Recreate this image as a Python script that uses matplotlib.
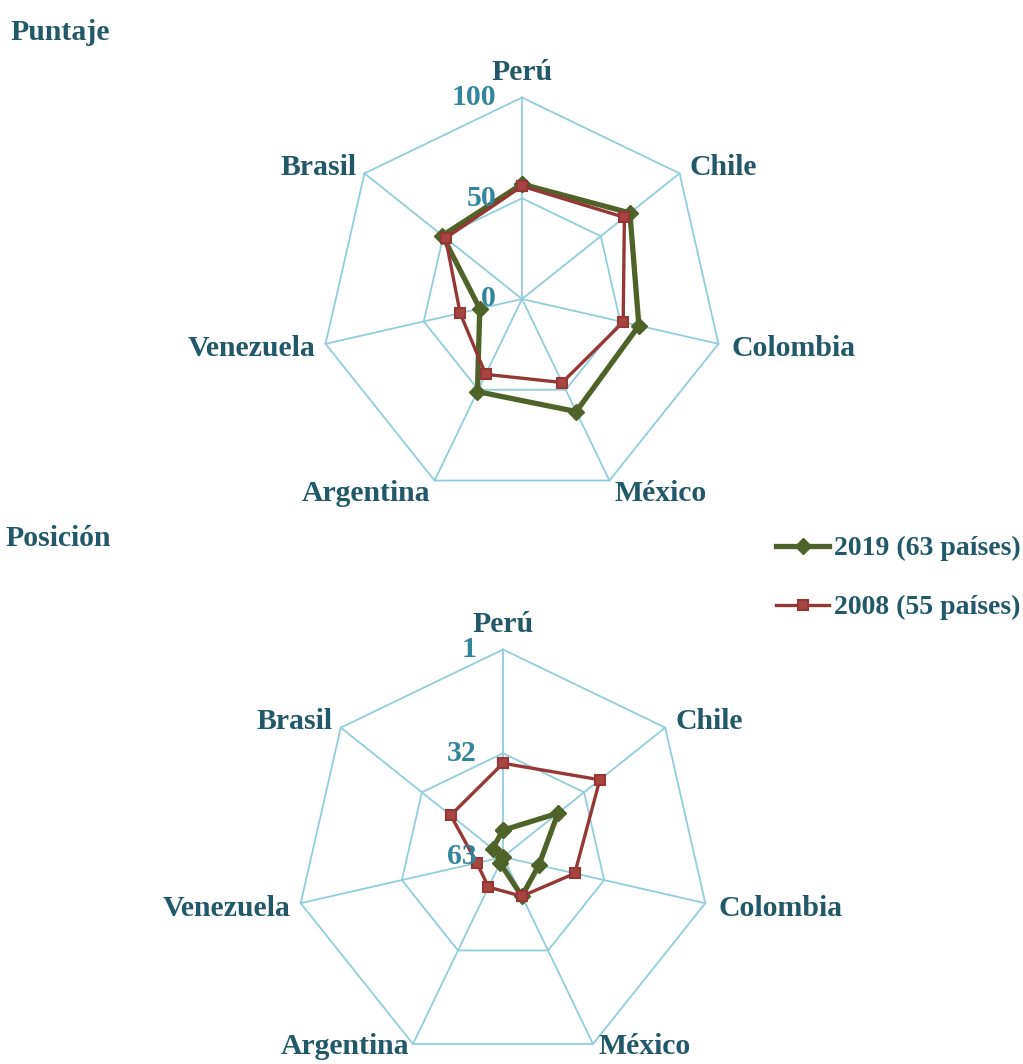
import numpy as np
import matplotlib
matplotlib.use('Agg')
import matplotlib.pyplot as plt
from matplotlib.lines import Line2D

# ---------------- data ----------------
categories = ['Perú', 'Chile', 'Colombia', 'México', 'Argentina', 'Venezuela', 'Brasil']
puntaje_2019 = [57, 68.5, 59.5, 62, 51, 21.5, 50.5]
puntaje_2008 = [56, 65, 51.5, 46, 41.5, 31.5, 48.5]
posicion_2019 = [55, 42, 52, 50, 61, 63, 59]
posicion_2008 = [35, 26, 41, 50, 53, 55, 43]
puntaje_ticks = [0, 50, 100]
posicion_ticks = [63, 32, 1]
series_labels = ['2019 (63 países)', '2008 (55 países)']
titles = ['Puntaje', 'Posición']

# ---------------- style ----------------
TEXT = '#215968'
TICK = '#31859C'
GRID = '#92CDDC'
GREEN = '#4F6228'
RED = '#953735'
RED_FACE = '#A84442'
FONT = ['Liberation Serif', 'DejaVu Serif']
FS = 21.4
FS_LEG = 20

W, H = 1023, 1064
fig = plt.figure(figsize=(W / 100, H / 100), dpi=100)


def rect_from_center(cx, cy, r):
    return [(cx - r) / W, (H - cy - r) / H, 2 * r / W, 2 * r / H]


def offsets(bottom_dy):
    return {
        'Perú': ((0, 25), 'center', 'center'),
        'Chile': ((10, 6), 'left', 'center'),
        'Colombia': ((13, -5), 'left', 'center'),
        'México': ((5, bottom_dy), 'left', 'center'),
        'Argentina': ((-4, bottom_dy), 'right', 'center'),
        'Venezuela': ((-10, -5), 'right', 'center'),
        'Brasil': ((-8, 6), 'right', 'center'),
    }


def radar(rect, v19, v08, ticks, bottom_dy):
    rmin, rmax = ticks[0], ticks[-1]
    ax = fig.add_axes(rect, projection='polar')
    ax.set_theta_zero_location('N')
    ax.set_theta_direction(-1)
    ax.set_ylim(rmin, rmax)
    ax.grid(False)
    ax.spines['polar'].set_visible(False)
    ax.set_xticks([])
    ax.set_yticks([])
    ax.patch.set_alpha(0)
    n = len(categories)
    theta = np.linspace(0, 2 * np.pi, n, endpoint=False)
    tc = np.append(theta, theta[0])
    for t in ticks[1:]:
        ax.plot(tc, [t] * (n + 1), color=GRID, lw=1.3, zorder=1, clip_on=False)
    for th in theta:
        ax.plot([th, th], [rmin, rmax], color=GRID, lw=1.3, zorder=1, clip_on=False)
    ax.plot(tc, list(v19) + [v19[0]], color=GREEN, lw=3.8, marker='D', ms=8.5,
            zorder=3, clip_on=False)
    ax.plot(tc, list(v08) + [v08[0]], color=RED, lw=2.4, marker='s', ms=7.5,
            mfc=RED_FACE, mec=RED, mew=1.5, zorder=4, clip_on=False)
    lo = offsets(bottom_dy)
    for th, cat in zip(theta, categories):
        off, ha, va = lo[cat]
        ax.annotate(cat, xy=(th, rmax), xytext=off, textcoords='offset pixels',
                    ha=ha, va=va, fontsize=FS, fontweight='bold', color=TEXT,
                    family=FONT, annotation_clip=False)
    for t in ticks:
        ax.annotate(str(t), xy=(0, t), xytext=(-26, 0), textcoords='offset pixels',
                    ha='right', va='center', fontsize=FS, fontweight='bold',
                    color=TICK, family=FONT, annotation_clip=False, zorder=5)
    return ax


radar(rect_from_center(522, 299, 201.5), puntaje_2019, puntaje_2008, puntaje_ticks, -13)
radar(rect_from_center(503, 857, 207.5), posicion_2019, posicion_2008, posicion_ticks, -3)

fig.text(10 / W, 1 - 33 / H, titles[0], ha='left', va='center', fontsize=FS,
         fontweight='bold', color=TEXT, family=FONT)
fig.text(5 / W, 1 - 538 / H, titles[1], ha='left', va='center', fontsize=FS,
         fontweight='bold', color=TEXT, family=FONT)

handles = [Line2D([], [], color=GREEN, lw=3.8, marker='D', ms=8.5),
           Line2D([], [], color=RED, lw=2.4, marker='s', ms=7.5,
                  mfc=RED_FACE, mec=RED, mew=1.5)]
leg = fig.legend(handles, series_labels, loc='upper right',
                 bbox_to_anchor=(1021 / W, 1 - 536 / H), frameon=False,
                 prop={'family': FONT, 'weight': 'bold', 'size': FS_LEG},
                 handlelength=1.9, handletextpad=0.18, labelspacing=1.2,
                 borderpad=0, borderaxespad=0)
for t in leg.get_texts():
    t.set_color(TEXT)

fig.savefig('out.png', dpi=100)
